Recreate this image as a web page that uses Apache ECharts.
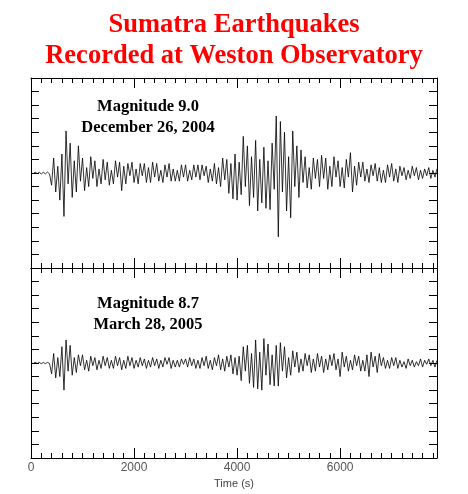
<!DOCTYPE html>
<html>
<head>
<meta charset="utf-8">
<script src="https://cdn.jsdelivr.net/npm/echarts@6/dist/echarts.min.js"></script>
<style>
  html, body { margin: 0; padding: 0; background: #fff; }
  #chart { width: 468px; height: 494px; }
</style>
</head>
<body>
<div id="chart"></div>
<script>
// seismogram samples, one every 40 s, starting at t = 0 (10 samples per row)
const sampleStep = 40;
const timeMax = 7880;

// Magnitude 9.0, December 26, 2004
const quake2004 = [
  0.5, -0.6, 0.7, -0.5, 0.6, -0.7, 0.5, -0.6, 0.7, -0.8,
  -9, 11, -14, 5, -20, 14, -32, 31, -8, 22,
  -18, 9, -14, 20, -6, 11, -13, 4, -10, 12,
  -4, 9, -10, 3, -8, 10, -5, 8, -9, 2,
  -8, 9, -3, 8, -13, 5, -8, 7, -2, 8,
  -7, 3, -8, 7, -2, 7, -7, 4, -7, 8,
  -3, 7, -6, 2, -7, 6, -3, 7, -6, 3,
  -6, 2, -6, 6, -3, 6, -6, 2, -5, 6,
  -3, 6, -5, 6, -2, 5, -7, 3, -6, 7,
  -8, 4, -10, 11, -5, 10, -15, 7, -19, 14,
  -20, 8, -16, 27, -10, 20, -24, 12, -18, 24,
  -28, 10, -22, 19, -26, 9, -27, 22, -12, 42,
  -47, 38, -14, 30, -28, 12, -33, 31, -10, 20,
  -18, 17, -7, 12, -11, 4, -12, 11, -4, 10,
  -10, 13, -4, 11, -12, 5, -10, 12, -3, 9,
  -10, 4, -11, 10, -3, 15, -14, 5, -9, 8,
  -3, 8, -6, 3, -7, 6, -2, 7, -6, 4,
  -7, 2, -7, 6, -3, 7, -6, 3, -7, 5,
  -2, 4, -5, 2, -4, 5, -2, 4, -5, 2,
  -4, 3, -2, 4, -4, 2, -3, 3
];

// Magnitude 8.7, March 28, 2005
const quake2005 = [
  0.4, -0.5, 0.5, -0.4, 0.5, -0.5, 0.4, -0.5, 0.5, -0.4,
  -8, 7, -11, 4, -10, 12, -20, 17, -6, 13,
  -9, 4, -7, 6, -2, 6, -5, 2, -6, 5,
  -2, 4, -5, 2, -4, 5, -2, 4, -4, 2,
  -4, 5, -2, 4, -5, 2, -4, 5, -2, 4,
  -4, 2, -3, 4, -2, 3, -4, 2, -3, 4,
  -2, 3, -4, 2, -3, 4, -1, 4, -4, 2,
  -3, 2, -3, 3, -1, 3, -3, 4, -2, 3,
  -4, 2, -4, 4, -2, 5, -4, 2, -5, 4,
  -2, 6, -5, 3, -6, 5, -3, 6, -8, 4,
  -9, 5, -13, 12, -6, 13, -15, 7, -18, 17,
  -19, 8, -20, 18, -9, 14, -16, 6, -17, 13,
  -17, 15, -6, 12, -11, 4, -9, 9, -3, 8,
  -7, 3, -6, 7, -2, 6, -7, 3, -6, 7,
  -3, 5, -7, 3, -5, 6, -2, 7, -5, 3,
  -10, 8, -3, 5, -6, 2, -5, 6, -2, 5,
  -6, 2, -6, 6, -10, 8, -3, 5, -7, 7,
  -2, 4, -4, 2, -4, 4, -2, 4, -4, 2,
  -3, 1, -4, 3, -2, 2, -3, 1, -2, 3,
  -3, 2, -1, 3, -2, 2, -3, 2
];

const titleLines = ['Sumatra Earthquakes', 'Recorded at Weston Observatory'];
const panelNotes = [
  ['Magnitude 9.0', 'December 26, 2004'],
  ['Magnitude 8.7', 'March 28, 2005']
];

const toPairs = vals => vals.map((v, i) => [i * sampleStep, v]);

const chart = echarts.init(document.getElementById('chart'));

// one horizontal edge = a major axis (2000 s) + a minor axis (200 s)
const edgeAxes = (grid, pos, withLabels) => [
  {
    type: 'value', gridIndex: grid, position: pos,
    min: 0, max: timeMax, interval: 2000,
    axisLine: {show: true, onZero: false, lineStyle: {color: '#000', width: 1}},
    axisTick: {show: true, inside: true, length: 10, lineStyle: {color: '#000'}},
    axisLabel: {
      show: withLabels, showMaxLabel: false, color: '#555', fontSize: 12,
      fontFamily: 'Liberation Sans', margin: 4,
      formatter: v => String(v)
    },
    splitLine: {show: false},
    name: withLabels ? 'Time (s)' : '',
    nameLocation: 'middle', nameGap: 20,
    nameTextStyle: {color: '#444', fontSize: 11, fontFamily: 'Liberation Sans'}
  },
  {
    type: 'value', gridIndex: grid, position: pos,
    min: 0, max: timeMax, interval: 200,
    axisLine: {show: false, onZero: false},
    axisTick: {show: true, inside: true, length: 5, lineStyle: {color: '#000'}},
    axisLabel: {show: false},
    splitLine: {show: false}
  }
];

const sideAxis = (grid, pos) => ({
  type: 'value', gridIndex: grid, position: pos,
  min: -70, max: 70, interval: 10,
  axisLine: {show: true, onZero: false, lineStyle: {color: '#000', width: 1}},
  axisTick: {show: true, inside: true, length: 8, lineStyle: {color: '#000'}},
  axisLabel: {show: false},
  splitLine: {show: false}
});

const noteText = (x, y, text) => ({
  type: 'text', x: x, y: y,
  style: {
    text: text, fill: '#000', align: 'center', verticalAlign: 'middle',
    font: 'bold 16.5px "Liberation Serif"'
  }
});

chart.setOption({
  animation: false,
  backgroundColor: '#fff',
  title: {
    text: titleLines.join('\n'),
    left: 'center',
    top: 5,
    textStyle: {
      color: '#ff0000', fontSize: 26.5, fontWeight: 'bold',
      fontFamily: 'Liberation Serif', lineHeight: 31
    }
  },
  grid: [
    {left: 31, top: 78, width: 406, height: 190},
    {left: 31, top: 268, width: 406, height: 190}
  ],
  xAxis: [
    ...edgeAxes(0, 'bottom', false),
    ...edgeAxes(0, 'top', false),
    ...edgeAxes(1, 'bottom', true),
    ...edgeAxes(1, 'top', false)
  ],
  yAxis: [
    sideAxis(0, 'left'), sideAxis(0, 'right'),
    sideAxis(1, 'left'), sideAxis(1, 'right')
  ],
  graphic: [
    noteText(148, 107, panelNotes[0][0]),
    noteText(148, 128, panelNotes[0][1]),
    noteText(148, 304, panelNotes[1][0]),
    noteText(148, 325, panelNotes[1][1])
  ],
  series: [
    {
      type: 'line', xAxisIndex: 0, yAxisIndex: 0,
      data: toPairs(quake2004),
      showSymbol: false, silent: true,
      lineStyle: {color: '#000', width: 0.8}
    },
    {
      type: 'line', xAxisIndex: 4, yAxisIndex: 2,
      data: toPairs(quake2005),
      showSymbol: false, silent: true,
      lineStyle: {color: '#000', width: 0.8}
    }
  ]
});
</script>
</body>
</html>
